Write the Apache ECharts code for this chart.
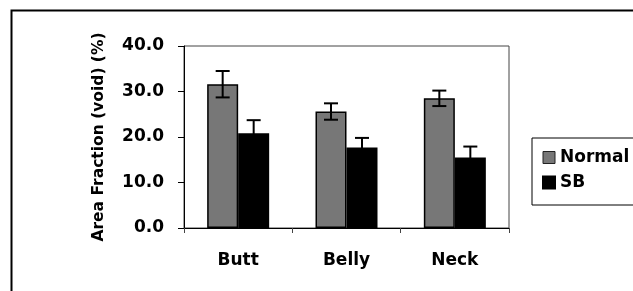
<!DOCTYPE html>
<html>
<head>
  <meta charset="utf-8">
</head>
<body style="height: 100%; margin: 0">
  <div id="container" style="width: 633px; height: 291px"></div>
  <script type="text/javascript" src="https://fastly.jsdelivr.net/npm/echarts@6/dist/echarts.min.js"></script>
  <script type="text/javascript">
    // values
    const categories = ['Butt', 'Belly', 'Neck'];
    const normalValues = [31.6, 25.6, 28.5];
    const normalErrors = [2.9, 1.8, 1.7];
    const sbValues = [20.8, 17.7, 15.5];
    const sbErrors = [2.9, 2.1, 2.4];
    const yTicks = [0, 10, 20, 30, 40];

    const font = 'DejaVu Sans';
    const barW = 31;

    var dom = document.getElementById('container');
    var myChart = echarts.init(dom, null, { renderer: 'canvas' });

    function errorSeries(name, values, errors, shift) {
      return {
        type: 'custom',
        name: name + ' err',
        data: values.map((v, i) => [i, v - errors[i], v + errors[i]]),
        z: 10,
        silent: true,
        renderItem: function (params, api) {
          const lo = api.coord([api.value(0), api.value(1)]);
          const hi = api.coord([api.value(0), api.value(2)]);
          const x = lo[0] + shift;
          const cap = 7;
          const style = { stroke: '#000', lineWidth: 2 };
          return {
            type: 'group',
            children: [
              { type: 'line', shape: { x1: x, y1: lo[1], x2: x, y2: hi[1] }, style: style },
              { type: 'line', shape: { x1: x - cap, y1: hi[1], x2: x + cap, y2: hi[1] }, style: style },
              { type: 'line', shape: { x1: x - cap, y1: lo[1], x2: x + cap, y2: lo[1] }, style: style }
            ]
          };
        }
      };
    }

    var option = {
      animation: false,
      backgroundColor: '#fff',
      graphic: [{
        type: 'rect',
        shape: { x: 11.5, y: 10.5, width: 700, height: 400 },
        style: { fill: 'none', stroke: '#000', lineWidth: 2 },
        silent: true
      }],
      grid: {
        left: 184,
        top: 46,
        right: 124,
        bottom: 63,
        show: true,
        borderColor: '#444',
        borderWidth: 1
      },
      legend: {
        orient: 'vertical',
        left: 532,
        top: 138,
        padding: [11, 80, 14, 10],
        itemGap: 8,
        itemWidth: 12,
        itemHeight: 12,
        borderColor: '#000',
        borderWidth: 1,
        data: [
          { name: 'Normal', icon: 'rect', itemStyle: { color: '#777', borderColor: '#222', borderWidth: 1 } },
          { name: 'SB', icon: 'rect', itemStyle: { color: '#000' } }
        ],
        textStyle: { fontFamily: font, fontWeight: 'bold', fontSize: 17, color: '#000', lineHeight: 17 }
      },
      xAxis: {
        type: 'category',
        data: categories,
        axisLine: { lineStyle: { color: '#000', width: 1 } },
        axisTick: { show: true, length: 5, lineStyle: { color: '#444' } },
        axisLabel: { fontFamily: font, fontWeight: 'bold', fontSize: 17, color: '#000', margin: 24 },
        splitLine: { show: false }
      },
      yAxis: {
        type: 'value',
        min: yTicks[0],
        max: yTicks[yTicks.length - 1],
        interval: 10,
        name: 'Area Fraction (void) (%)',
        nameLocation: 'middle',
        nameRotate: 90,
        nameGap: 77,
        nameTextStyle: { fontFamily: font, fontWeight: 'bold', fontSize: 15.5, color: '#000' },
        axisLine: { show: true, lineStyle: { color: '#000', width: 1 } },
        axisTick: { show: true, length: 6, lineStyle: { color: '#000' } },
        axisLabel: {
          fontFamily: font, fontWeight: 'bold', fontSize: 17, color: '#000', margin: 20,
          formatter: v => v.toFixed(1)
        },
        splitLine: { show: false }
      },
      series: [
        {
          name: 'Normal',
          type: 'bar',
          data: normalValues,
          barWidth: barW,
          barGap: '0%',
          itemStyle: { color: '#777', borderColor: '#000', borderWidth: 1.5 }
        },
        {
          name: 'SB',
          type: 'bar',
          data: sbValues,
          barWidth: barW,
          barGap: '0%',
          itemStyle: { color: '#000', borderColor: '#000', borderWidth: 1.5 }
        },
        errorSeries('Normal', normalValues, normalErrors, -barW / 2),
        errorSeries('SB', sbValues, sbErrors, barW / 2)
      ]
    };

    myChart.setOption(option);
    window.addEventListener('resize', myChart.resize);
  </script>
</body>
</html>
